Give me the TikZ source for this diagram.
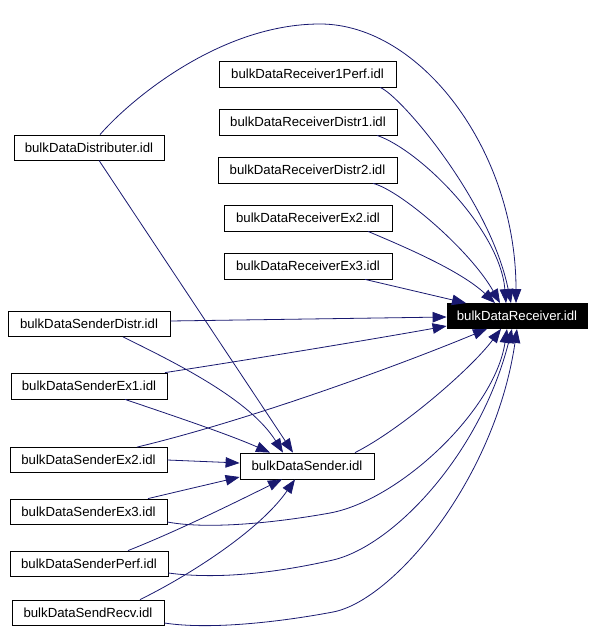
\documentclass[tikz,border=0pt]{standalone}
\usepackage{fontspec}
\setmainfont{Liberation Sans}
\usetikzlibrary{arrows.meta}
\definecolor{edgeblue}{RGB}{25,25,112}
\begin{document}
\begin{tikzpicture}[x=1pt,y=-1pt,
  box/.style={draw=black,line width=0.8pt,fill=white,inner sep=0pt,minimum height=25pt,
    font=\fontsize{13.2}{15}\selectfont},
  recvbox/.style={box,fill=black,text=white},
  dep/.style={draw=edgeblue,line width=0.8pt,-{Triangle[length=14pt,width=10.5pt]},color=edgeblue}]
\useasboundingbox (0,0) rectangle (595,636);
% nodes
\node[recvbox,minimum width=140pt] (recv) at (517,316) {bulkDataReceiver.idl};
\node[box,minimum width=177pt,minimum height=26pt] (r1perf) at (307.5,74) {bulkDataReceiver1Perf.idl};
\node[box,minimum width=178pt,minimum height=26pt] (rdistr1) at (308,122) {bulkDataReceiverDistr1.idl};
\node[box,minimum width=179pt,minimum height=26pt] (rdistr2) at (307.5,170) {bulkDataReceiverDistr2.idl};
\node[box,minimum width=168pt,minimum height=26pt] (rex2) at (308,218) {bulkDataReceiverEx2.idl};
\node[box,minimum width=168pt,minimum height=26pt] (rex3) at (308,266) {bulkDataReceiverEx3.idl};
\node[box,minimum width=150pt] (distrib) at (89,147.5) {bulkDataDistributer.idl};
\node[box,minimum width=162pt] (sdistr) at (89,324) {bulkDataSenderDistr.idl};
\node[box,minimum width=156pt,minimum height=26pt] (sex1) at (89,386) {bulkDataSenderEx1.idl};
\node[box,minimum width=157pt] (sex2) at (88.5,460) {bulkDataSenderEx2.idl};
\node[box,minimum width=134pt,minimum height=26pt] (sender) at (307,466) {bulkDataSender.idl};
\node[box,minimum width=157pt] (sex3) at (88.5,511.5) {bulkDataSenderEx3.idl};
\node[box,minimum width=158pt] (sperf) at (89,563.5) {bulkDataSenderPerf.idl};
\node[box,minimum width=152pt] (srecv) at (88,612.5) {bulkDataSendRecv.idl};
% edges to receiver from top
\draw[dep] ([xshift=11pt]distrib.north) .. controls (130,100) and (220,24) .. (320,24)
   .. controls (420,24) and (516,150) .. ([xshift=-1pt]recv.north);
\draw[dep] ([xshift=72.5pt]r1perf.south) .. controls (400,95) and (490,200) .. ([xshift=-6pt]recv.north);
\draw[dep] ([xshift=69pt]rdistr1.south) .. controls (420,150) and (500,230) .. ([xshift=-11pt]recv.north);
\draw[dep] ([xshift=65.5pt]rdistr2.south) .. controls (400,190) and (470,250) .. ([xshift=-17pt]recv.north);
\draw[dep] ([xshift=60pt]rex2.south) .. controls (400,245) and (460,270) .. ([xshift=-22pt]recv.north);
\draw[dep] ([xshift=57pt]rex3.south) -- ([xshift=-51pt]recv.north);
% from left
\draw[dep] ([yshift=3pt]sdistr.east) -- ([yshift=-1pt]recv.west);
\draw[dep] ([xshift=76pt]sex1.north) .. controls (260,358) and (380,338) .. ([yshift=-10pt]recv.west);
\draw[dep] ([xshift=48.5pt]sex2.north) .. controls (250,420) and (400,365) .. ([xshift=-30pt]recv.south);
\draw[dep] ([xshift=48pt]sender.north) .. controls (400,430) and (470,370) .. ([xshift=-16pt]recv.south);
\draw[dep] ([yshift=-10.5pt]sex3.east) .. controls (210,530) and (280,522) .. (330,513)
   .. controls (400,500) and (495,410) .. ([xshift=-10pt]recv.south);
\draw[dep] ([yshift=-9.5pt]sperf.east) .. controls (220,580) and (280,572) .. (333,560)
   .. controls (393,546) and (480,455) .. ([xshift=-5pt]recv.south);
\draw[dep] ([yshift=-10.5pt]srecv.east) .. controls (210,630) and (280,622) .. (333,612)
   .. controls (393,600.7) and (495,480) .. (recv.south);
% edges to sender
\draw[dep] ([xshift=10pt]distrib.south) -- ([xshift=-14pt]sender.north);
\draw[dep] ([xshift=34pt]sdistr.south) .. controls (180,365) and (250,400) .. ([xshift=-24pt]sender.north);
\draw[dep] ([xshift=36pt]sex1.south) .. controls (180,418) and (230,435) .. ([xshift=-37pt]sender.north);
\draw[dep] (sex2.east) -- ([yshift=3pt]sender.west);
\draw[dep] ([xshift=59.5pt]sex3.north) .. controls (180,491) and (210,484) .. ([yshift=-11pt]sender.west);
\draw[dep] ([xshift=39pt]sperf.north) .. controls (180,530) and (240,500) .. ([xshift=-25pt]sender.south);
\draw[dep] ([xshift=52pt]srecv.north) .. controls (190,575) and (260,530) .. ([xshift=-12pt]sender.south);
\end{tikzpicture}
\end{document}
